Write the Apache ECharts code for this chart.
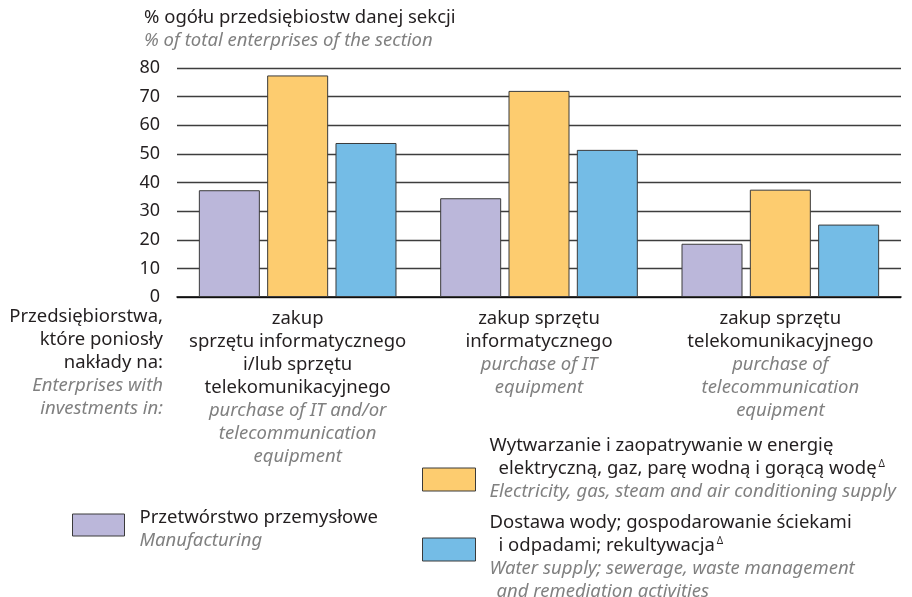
<!DOCTYPE html>
<html>
<head>
<meta charset="utf-8">
<script src="https://cdn.jsdelivr.net/npm/echarts@6/dist/echarts.min.js"></script>
<style>
  html, body { margin: 0; padding: 0; background: #fff; }
  #chart { width: 912px; height: 597px; }
</style>
</head>
<body>
<div id="chart"></div>
<script>
// categories (Polish / English)
const catPl = [
  ['zakup', 'sprzętu informatycznego', 'i/lub sprzętu', 'telekomunikacyjnego'],
  ['zakup sprzętu', 'informatycznego'],
  ['zakup sprzętu', 'telekomunikacyjnego']
];
const catEn = [
  ['purchase of IT and/or', 'telecommunication', 'equipment'],
  ['purchase of IT', 'equipment'],
  ['purchase of', 'telecommunication', 'equipment']
];
const yTicks = [0, 10, 20, 30, 40, 50, 60, 70, 80];

// series values
const manufacturing = [37.3, 34.5, 18.6];
const energy = [77.4, 72.0, 37.5];
const water = [53.8, 51.4, 25.3];

const seriesNames = ['Przetwórstwo przemysłowe', 'Wytwarzanie', 'Dostawa wody'];
const colors = ['#bbb7da', '#fdcc6f', '#74bce6'];

const FONT = 'Noto Sans';
const DARK = '#231f20';
const GREY = '#808080';
const FS = 18.5;

const txt = (extra) => Object.assign({ fontFamily: FONT, fontSize: FS, fontWeight: 'normal', color: DARK, lineHeight: 23 }, extra);
const richBase = {
  pl: txt({}),
  en: txt({ color: GREY, fontStyle: 'italic' }),
  plInd: txt({ padding: [0, 0, 0, 9] }),
  enInd: txt({ color: GREY, fontStyle: 'italic', padding: [0, 0, 0, 7] }),
  sup: txt({ fontSize: 10, verticalAlign: 'top', padding: [2, 0, 0, 2] })
};
// graphic text uses zrender style names (fill)
const richRight = {
  pl: txt({ fill: DARK, align: 'right' }),
  en: txt({ fill: GREY, fontStyle: 'italic', align: 'right' })
};

const catLabels = catPl.map((pl, i) =>
  pl.map(s => '{pl|' + s + '}').concat(catEn[i].map(s => '{en|' + s + '}')).join('\n'));

const chart = echarts.init(document.getElementById('chart'));

const barItem = (c) => ({ color: c, borderColor: '#3a3a3a', borderWidth: 1 });

chart.setOption({
  animation: false,
  backgroundColor: '#fff',
  title: {
    left: 144, top: 6, padding: 0,
    text: '{pl|% ogółu przedsiębiostw danej sekcji}\n{en|% of total enterprises of the section}',
    textStyle: { fontWeight: 'normal', rich: richBase }
  },
  grid: { left: 177, right: 11, top: 68, height: 229 },
  xAxis: {
    type: 'category',
    data: catLabels,
    axisLine: { lineStyle: { color: '#000', width: 1.5 } },
    axisTick: { show: false },
    axisLabel: { margin: 10, interval: 0, align: 'center', rich: richBase, formatter: v => v }
  },
  yAxis: {
    type: 'value', min: 0, max: 80, interval: 10,
    axisLine: { show: false },
    axisTick: { show: false },
    axisLabel: { margin: 17, fontFamily: FONT, fontSize: 18, color: DARK },
    splitLine: { lineStyle: { color: '#3d3d3d', width: 1.3 } }
  },
  legend: [
    {
      data: [seriesNames[0]], left: 72, top: 508, padding: 0,
      itemWidth: 52, itemHeight: 22, icon: 'rect',
      itemStyle: { borderColor: '#3a3a3a', borderWidth: 1 },
      formatter: () => '{pl|Przetwórstwo przemysłowe}\n{en|Manufacturing}',
      textStyle: { rich: richBase, padding: [8, 0, 0, 10] }
    },
    {
      data: [seriesNames[1]], left: 422, top: 436, padding: 0,
      itemWidth: 53, itemHeight: 23, icon: 'rect',
      itemStyle: { borderColor: '#3a3a3a', borderWidth: 1 },
      formatter: () => '{pl|Wytwarzanie i zaopatrywanie w energię}\n{plInd|elektryczną, gaz, parę wodną i gorącą wodę}{sup|Δ}\n{en|Electricity, gas, steam and air conditioning supply}',
      textStyle: { rich: richBase, padding: [0, 0, 22, 9] }
    },
    {
      data: [seriesNames[2]], left: 422, top: 513, padding: 0,
      itemWidth: 53, itemHeight: 23, icon: 'rect',
      itemStyle: { borderColor: '#3a3a3a', borderWidth: 1 },
      formatter: () => '{pl|Dostawa wody; gospodarowanie ściekami}\n{plInd|i odpadami; rekultywacja}{sup|Δ}\n{en|Water supply; sewerage, waste management}\n{enInd|and remediation activities}',
      textStyle: { rich: richBase, padding: [15, 0, 0, 9] }
    }
  ],
  graphic: [{
    type: 'text', right: 749, top: 307,
    style: {
      text: '{pl|Przedsiębiorstwa,}\n{pl|które poniosły}\n{pl|nakłady na:}\n{en|Enterprises with}\n{en|investments in:}',
      align: 'right', rich: richRight
    }
  }],
  series: [
    { name: seriesNames[0], type: 'bar', data: manufacturing, barWidth: 61, barGap: '12%', itemStyle: barItem(colors[0]) },
    { name: seriesNames[1], type: 'bar', data: energy, barWidth: 61, barGap: '12%', itemStyle: barItem(colors[1]) },
    { name: seriesNames[2], type: 'bar', data: water, barWidth: 61, barGap: '12%', itemStyle: barItem(colors[2]) }
  ]
});
</script>
</body>
</html>
